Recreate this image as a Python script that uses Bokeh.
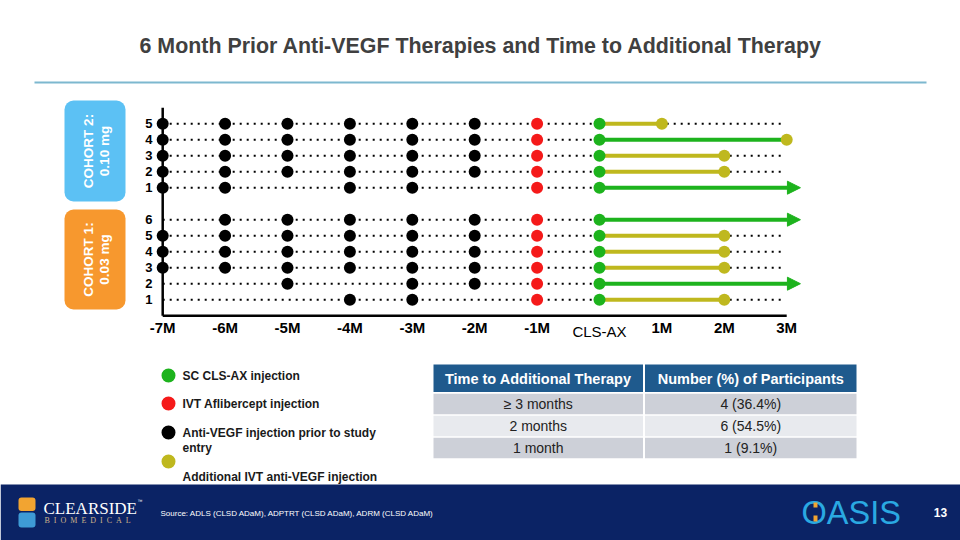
import numpy as np
from bokeh.plotting import figure
from bokeh.models import Range1d, ColumnDataSource, Arrow, NormalHead
from bokeh.core.properties import value
from bokeh.embed import file_html
from bokeh.resources import INLINE

# ------------------------------------------------------------------ data
TITLE = "6 Month Prior Anti-VEGF Therapies and Time to Additional Therapy"

month_ticks = [-7, -6, -5, -4, -3, -2, -1, 0, 1, 2, 3]
month_labels = ["-7M", "-6M", "-5M", "-4M", "-3M", "-2M", "-1M", "CLS-AX", "1M", "2M", "3M"]

cohort2_label = ["COHORT 2:", "0.10 mg"]
cohort2_ids = [5, 4, 3, 2, 1]
cohort2_prior = [
    [-7, -6, -5, -4, -3, -2],
    [-7, -6, -5, -4, -3, -2],
    [-7, -6, -5, -4, -3, -2],
    [-7, -6, -5, -4, -3, -2],
    [-7, -6, -4, -3],
]
cohort2_time_to_add = [1, 3, 2, 2, None]      # None = no additional therapy (ongoing)

cohort1_label = ["COHORT 1:", "0.03 mg"]
cohort1_ids = [6, 5, 4, 3, 2, 1]
cohort1_prior = [
    [-6, -5, -4, -3, -2],
    [-7, -6, -5, -4, -3, -2],
    [-7, -6, -5, -4, -3, -2],
    [-7, -6, -5, -4, -3, -2],
    [-5, -3, -2],
    [-4, -3],
]
cohort1_time_to_add = [None, 2, 2, 2, None, 2]

aflibercept_month = -1
clsax_month = 0
followup_end = 3

legend_labels = ["SC CLS-AX injection", "IVT Aflibercept injection",
                 "Anti-VEGF injection prior to study\nentry", "Additional IVT anti-VEGF injection"]

table_header = ["Time to Additional Therapy", "Number (%) of Participants"]
table_col1 = ["\u2265 3 months", "2 months", "1 month"]
table_col2 = ["4 (36.4%)", "6 (54.5%)", "1 (9.1%)"]

source_note = "Source: ADLS (CLSD ADaM), ADPTRT (CLSD ADaM), ADRM (CLSD ADaM)"
page_number = "13"

# ------------------------------------------------------------------ style
GREEN = "#1DB31D"
RED = "#F51A1A"
BLACK = "#000000"
OLIVE = "#BFB81E"
BLUE_BOX = "#5CC1F4"
ORANGE_BOX = "#F7982E"
NAVY = "#0B2365"
HEADER = "#1F5A8D"
ROW_DARK = "#CDD0D8"
ROW_LIGHT = "#E8EAEE"
TITLE_C = "#404040"
RULE_C = "#7DB8CF"
TEXT_C = "#1A1A1A"
FONT = value("Liberation Sans")
SERIF = value("Liberation Serif")

# ------------------------------------------------------------------ layout
W, H = 960, 540
PAGE_L, PAGE_T = 0, 0
X_AXIS_PX = 162.2        # page x of the -7M axis
PX_PER_MONTH = 62.4
ROW1_PY = 299.2          # page y of participant row 1 (cohort 1)
PX_PER_ROW = 16.0
COHORT_GAP = 1           # empty rows between cohorts

x_start = -7 - (X_AXIS_PX - PAGE_L) / PX_PER_MONTH
x_end = -7 + (PAGE_L + W - X_AXIS_PX) / PX_PER_MONTH
y_start = 1 - (PAGE_T + H - ROW1_PY) / PX_PER_ROW
y_end = 1 + (ROW1_PY - PAGE_T) / PX_PER_ROW

p = figure(width=W, height=H,
           x_range=Range1d(x_start, x_end), y_range=Range1d(y_start, y_end),
           x_axis_location=None, y_axis_location=None, title=None,
           toolbar_location=None, output_backend="svg", min_border=0,
           outline_line_color=None, background_fill_color="white",
           border_fill_color="white")
p.grid.visible = False
p.extra_x_ranges = {"px": Range1d(PAGE_L, PAGE_L + W)}
p.extra_y_ranges = {"py": Range1d(PAGE_T + H, PAGE_T)}
PG = dict(x_range_name="px", y_range_name="py")

# ------------------------------------------------------------------ rows
rows = []   # (y, id, prior, t)
n1 = len(cohort1_ids)
for pid, prior, t in zip(cohort1_ids, cohort1_prior, cohort1_time_to_add):
    rows.append((pid, pid, prior, t))
for pid, prior, t in zip(cohort2_ids, cohort2_prior, cohort2_time_to_add):
    rows.append((pid + n1 + COHORT_GAP, pid, prior, t))

row_y = [r[0] for r in rows]
top_row = max(row_y) + 1

# ---------------------------------------------------------- title + rule
p.text(x=[480.5], y=[45], text=[TITLE], text_font=FONT, text_font_size=value("21.4px"),
       text_font_style="bold", text_color=TITLE_C, text_align="center",
       text_baseline="middle", **PG)
p.segment(x0=[34], y0=[82], x1=[926], y1=[82], line_color=RULE_C, line_width=2, **PG)

# ---------------------------------------------------------- cohort boxes
p.quad(left=[64, 64], right=[125, 125], top=[100, 209], bottom=[201, 309],
       fill_color=[BLUE_BOX, ORANGE_BOX], line_color=None, border_radius=9, **PG)
for box_mid, lab in ((150.5, cohort2_label), (259, cohort1_label)):
    p.text(x=[88, 104], y=[box_mid, box_mid], text=lab, angle=np.pi / 2,
           text_font=FONT, text_font_size=value("13.5px"), text_font_style="bold",
           text_color="white", text_align="center", text_baseline="middle", **PG)

# ---------------------------------------------------------- chart axes
p.segment(x0=[-7], y0=[0], x1=[-7], y1=[top_row], line_color=BLACK, line_width=2.5)
p.segment(x0=[-7], y0=[0], x1=[followup_end], y1=[0], line_color=BLACK, line_width=2.5)

# y tick labels (participant numbers)
p.text(x=[152] * len(rows), y=row_y, text=[str(r[1]) for r in rows],
       text_font=FONT, text_font_size=value("13px"), text_font_style="bold",
       text_color=BLACK, text_align="right", text_baseline="middle",
       x_range_name="px")

# x tick labels
bold_idx = [i for i, m in enumerate(month_ticks) if m != clsax_month]
p.text(x=[month_ticks[i] for i in bold_idx], y=[327] * len(bold_idx),
       text=[month_labels[i] for i in bold_idx], text_font=FONT,
       text_font_size=value("15px"), text_font_style="bold", text_color=BLACK,
       text_align="center", text_baseline="middle", y_range_name="py")
ci = month_ticks.index(clsax_month)
p.text(x=[month_ticks[ci]], y=[331], text=[month_labels[ci]], text_font=FONT,
       text_font_size=value("15px"), text_color=BLACK,
       text_align="center", text_baseline="middle", y_range_name="py")

# ---------------------------------------------------------- dotted guides
dot_end = followup_end - 0.08
p.segment(x0=[-7] * len(rows), y0=row_y, x1=[dot_end] * len(rows), y1=row_y,
          line_color=BLACK, line_width=2, line_dash="2 5")

# ---------------------------------------------------------- follow-up lines
seg = dict(x0=[], y0=[], x1=[], y1=[], c=[])
add_x, add_y = [], []
arr = dict(x0=[], y0=[], x1=[], y1=[])
for y, pid, prior, t in rows:
    if t is None:
        arr["x0"].append(clsax_month); arr["y0"].append(y)
        arr["x1"].append(followup_end + 0.22); arr["y1"].append(y)
    else:
        seg["x0"].append(clsax_month); seg["y0"].append(y)
        seg["x1"].append(t); seg["y1"].append(y)
        seg["c"].append(GREEN if t >= followup_end else OLIVE)
        add_x.append(t); add_y.append(y)

p.segment(x0="x0", y0="y0", x1="x1", y1="y1", line_color="c", line_width=4,
          source=ColumnDataSource(seg))
p.add_layout(Arrow(end=NormalHead(size=13, fill_color=GREEN, line_color=GREEN, line_width=1),
                   x_start="x0", y_start="y0", x_end="x1", y_end="y1",
                   line_color=GREEN, line_width=4, source=ColumnDataSource(arr)))

# ---------------------------------------------------------- markers
prior_x = [m for r in rows for m in r[2]]
prior_y = [r[0] for r in rows for m in r[2]]
p.scatter(prior_x, prior_y, size=12, fill_color=BLACK, line_color=None)
p.scatter([aflibercept_month] * len(rows), row_y, size=12, fill_color=RED, line_color=None)
p.scatter([clsax_month] * len(rows), row_y, size=12, fill_color=GREEN, line_color=None)
p.scatter(add_x, add_y, size=12, fill_color=OLIVE, line_color=None)

# ---------------------------------------------------------- legend
legend_colors = [GREEN, RED, BLACK, OLIVE]
legend_marker_y = [375, 403, 432, 461]
legend_text_y = [375, 403, 432, 476]
p.scatter([168] * 4, legend_marker_y, size=14, fill_color=legend_colors, line_color=None, **PG)
lx, ly, lt = [], [], []
for lab, ty in zip(legend_labels, legend_text_y):
    for k, line in enumerate(lab.split("\n")):
        lx.append(182); ly.append(ty + 15 * k); lt.append(line)
p.text(x=lx, y=ly, text=lt, text_font=FONT, text_font_size=value("12px"),
       text_font_style="bold", text_color=TEXT_C, text_align="left",
       text_baseline="middle", **PG)

# ---------------------------------------------------------- table
col_l = [433, 644.5]
col_r = [642.5, 856]
p.quad(left=col_l, right=col_r, top=[364, 364], bottom=[391.5, 391.5],
       fill_color=HEADER, line_color=None, **PG)
p.text(x=[(l + r) / 2 for l, r in zip(col_l, col_r)], y=[378, 378], text=table_header,
       text_font=FONT, text_font_size=value("14.5px"), text_font_style="bold",
       text_color="white", text_align="center", text_baseline="middle", **PG)
ql, qr, qt, qb, qc, tx, ty, tt = [], [], [], [], [], [], [], []
for i, (a, b) in enumerate(zip(table_col1, table_col2)):
    top = 393.3 + 22 * i
    for j, s in enumerate((a, b)):
        ql.append(col_l[j]); qr.append(col_r[j]); qt.append(top); qb.append(top + 20.4)
        qc.append(ROW_DARK if i % 2 == 0 else ROW_LIGHT)
        tx.append((col_l[j] + col_r[j]) / 2); ty.append(top + 10.4); tt.append(s)
p.quad(left=ql, right=qr, top=qt, bottom=qb, fill_color=qc, line_color=None, **PG)
p.text(x=tx, y=ty, text=tt, text_font=FONT, text_font_size=value("14px"),
       text_color="#222222", text_align="center", text_baseline="middle", **PG)

# ---------------------------------------------------------- footer
p.quad(left=[PAGE_L], right=[PAGE_L + W], top=[484], bottom=[PAGE_T + H],
       fill_color=NAVY, line_color=None, **PG)
# Clearside logo (simplified)
p.quad(left=[18, 18], right=[35, 35], top=[497, 512], bottom=[510.5, 527],
       fill_color=["#F2A431", "#3E9BD6"], line_color=None, border_radius=3, **PG)
p.text(x=[43], y=[507.5], text=["CLEARSIDE"], text_font=SERIF, text_font_size=value("17px"),
       text_color="white", text_align="left", text_baseline="middle", **PG)
p.text(x=[137], y=[500], text=["\u2122"], text_font=FONT, text_font_size=value("5px"),
       text_color="white", text_align="left", text_baseline="middle", **PG)
p.text(x=[44], y=[520], text=["\u00a0\u00a0".join("BIOMEDICAL")], text_font=SERIF,
       text_font_size=value("8px"), text_color="#CDB48A", text_align="left",
       text_baseline="middle", **PG)
p.text(x=[160], y=[512.5], text=[source_note], text_font=FONT, text_font_size=value("8px"),
       text_color="white", text_align="left", text_baseline="middle", **PG)
# OASIS logo (simplified)
p.text(x=[801], y=[512], text=["OASIS"], text_font=FONT, text_font_size=value("32.5px"),
       text_color="#2AA9E2", text_align="left", text_baseline="middle", **PG)
p.quad(left=[813, 813], right=[817, 817], top=[502, 515], bottom=[507, 521],
       fill_color="#F2A431", line_color=None, **PG)
p.text(x=[940], y=[512], text=[page_number], text_font=FONT, text_font_size=value("12px"),
       text_font_style="bold", text_color="white", text_align="center",
       text_baseline="middle", **PG)

open("out.html", "w").write(file_html(p, INLINE))
